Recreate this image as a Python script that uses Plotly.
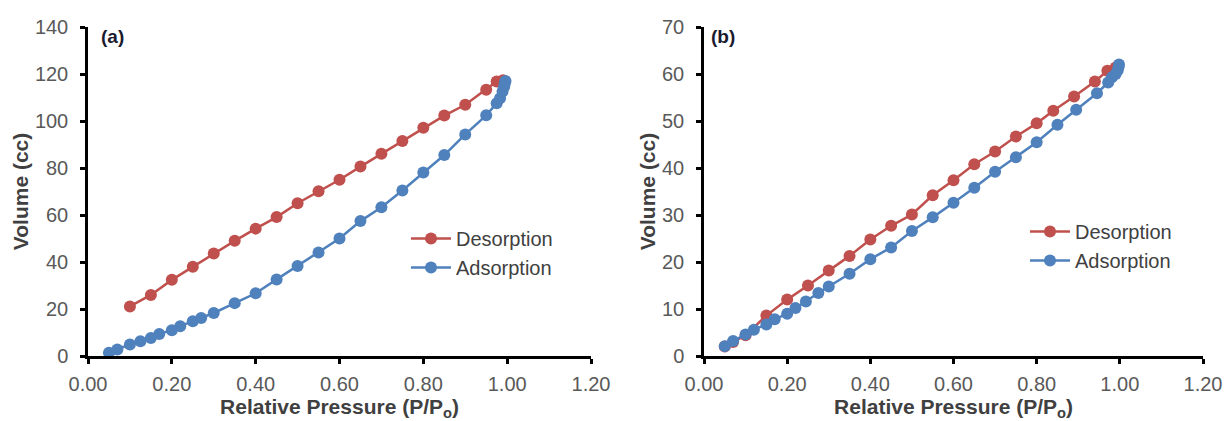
import plotly.graph_objects as go

# Panel (a)
a_des_x = [0.10, 0.15, 0.20, 0.25, 0.30, 0.35, 0.40, 0.45, 0.50, 0.55, 0.60, 0.65, 0.70, 0.75, 0.80, 0.85, 0.90, 0.95, 0.975, 0.99]
a_des_y = [21.1, 26.0, 32.4, 38.0, 43.6, 49.0, 54.2, 59.1, 65.0, 70.1, 75.0, 80.6, 86.1, 91.5, 97.1, 102.3, 106.9, 113.3, 116.8, 117.3]
a_ads_x = [0.05, 0.07, 0.10, 0.125, 0.15, 0.17, 0.20, 0.22, 0.25, 0.27, 0.30, 0.35, 0.40, 0.45, 0.50, 0.55, 0.60, 0.65, 0.70, 0.75, 0.80, 0.85, 0.90, 0.95, 0.975, 0.983, 0.989, 0.993, 0.995, 0.996]
a_ads_y = [1.4, 2.8, 4.9, 6.3, 7.7, 9.4, 11.0, 12.7, 14.8, 16.2, 18.3, 22.5, 26.7, 32.6, 38.3, 44.0, 50.0, 57.4, 63.3, 70.4, 78.1, 85.5, 94.3, 102.4, 107.6, 109.7, 112.6, 114.7, 116.4, 117.0]

# Panel (b)
b_des_x = [0.05, 0.07, 0.10, 0.15, 0.20, 0.25, 0.30, 0.35, 0.40, 0.45, 0.50, 0.55, 0.60, 0.65, 0.70, 0.75, 0.80, 0.84, 0.89, 0.94, 0.97, 0.99]
b_des_y = [2.0, 3.0, 4.4, 8.6, 12.0, 15.0, 18.2, 21.3, 24.8, 27.7, 30.1, 34.2, 37.4, 40.8, 43.5, 46.7, 49.5, 52.2, 55.2, 58.4, 60.7, 61.4]
b_ads_x = [0.05, 0.07, 0.10, 0.12, 0.15, 0.17, 0.20, 0.22, 0.245, 0.275, 0.30, 0.35, 0.40, 0.45, 0.50, 0.55, 0.60, 0.65, 0.70, 0.75, 0.80, 0.85, 0.895, 0.945, 0.972, 0.981, 0.99, 0.995, 0.997, 0.998]
b_ads_y = [2.1, 3.2, 4.6, 5.6, 6.7, 7.8, 9.0, 10.2, 11.6, 13.4, 14.8, 17.5, 20.6, 23.1, 26.6, 29.5, 32.6, 35.8, 39.2, 42.3, 45.5, 49.2, 52.4, 55.9, 58.2, 59.3, 60.0, 60.8, 61.5, 62.0]

x_ticks = [0.0, 0.2, 0.4, 0.6, 0.8, 1.0, 1.2]
a_y_ticks = [0, 20, 40, 60, 80, 100, 120, 140]
b_y_ticks = [0, 10, 20, 30, 40, 50, 60, 70]

RED = "#C0504D"
BLUE = "#4F81BD"
FONT = "Liberation Sans, Arial, sans-serif"

fig = go.Figure()

def add(x, y, name, color, xa, ya, legend, group):
    fig.add_trace(go.Scatter(
        x=x, y=y, name=name, mode="lines+markers",
        line=dict(color=color, width=2.5),
        marker=dict(color=color, size=12),
        xaxis=xa, yaxis=ya, legend=legend, legendgroup=group))

add(a_des_x, a_des_y, "Desorption", RED, "x", "y", "legend", "ad")
add(a_ads_x, a_ads_y, "Adsorption", BLUE, "x", "y", "legend", "aa")
add(b_des_x, b_des_y, "Desorption", RED, "x2", "y2", "legend2", "bd")
add(b_ads_x, b_ads_y, "Adsorption", BLUE, "x2", "y2", "legend2", "ba")

ydom = [65 / 421, 394 / 421]
xa_dom = [88 / 1224, 591 / 1224]
xb_dom = [704 / 1224, 1203 / 1224]

tickfont = dict(family=FONT, size=20, color="#595959")
titlefont = dict(family=FONT, size=21, color="#404040")

def xaxis(dom, anchor):
    return dict(domain=dom, anchor=anchor, range=[0, 1.2], tickvals=x_ticks,
                tickformat=".2f", showline=True, linecolor="black", linewidth=2.5,
                ticks="outside", ticklen=5, tickwidth=2.5, tickcolor="black",
                ticklabelstandoff=3, automargin=False,
                showgrid=False, zeroline=False, tickfont=tickfont,
                title=dict(text="<b>Relative Pressure (P/P<sub>o</sub>)</b>", font=titlefont, standoff=3))

def yaxis(rng, vals, anchor):
    return dict(domain=ydom, anchor=anchor, range=rng, tickvals=vals,
                showline=True, linecolor="black", linewidth=2.5,
                ticks="outside", ticklen=5, tickwidth=2.5, tickcolor="black",
                ticklabelstandoff=8, automargin=False,
                showgrid=False, zeroline=False, tickfont=tickfont,
                title=dict(text="<b>Volume (cc)</b>", font=titlefont, standoff=1))

legend_common = dict(font=dict(family=FONT, size=20, color="#404040"),
                     bgcolor="rgba(0,0,0,0)", xanchor="left", yanchor="middle",
                     tracegroupgap=0, itemwidth=40)

fig.update_layout(
    width=1224, height=421,
    margin=dict(l=0, r=0, t=0, b=0, autoexpand=False),
    paper_bgcolor="white", plot_bgcolor="white",
    xaxis=xaxis(xa_dom, "y"),
    yaxis=yaxis([0, 140], a_y_ticks, "x"),
    xaxis2=xaxis(xb_dom, "y2"),
    yaxis2=yaxis([0, 70], b_y_ticks, "x2"),
    legend=dict(x=406 / 1224, y=1 - 253 / 421, **legend_common),
    legend2=dict(x=1025 / 1224, y=1 - 246 / 421, **legend_common),
    annotations=[
        dict(text="<b>(a)</b>", x=99 / 1224, y=1 - 37 / 421, xref="paper", yref="paper",
             xanchor="left", yanchor="middle", showarrow=False,
             font=dict(family=FONT, size=19, color="#1a1a2e")),
        dict(text="<b>(b)</b>", x=709 / 1224, y=1 - 37 / 421, xref="paper", yref="paper",
             xanchor="left", yanchor="middle", showarrow=False,
             font=dict(family=FONT, size=19, color="#1a1a2e")),
    ],
)

fig.write_html("out.html")
